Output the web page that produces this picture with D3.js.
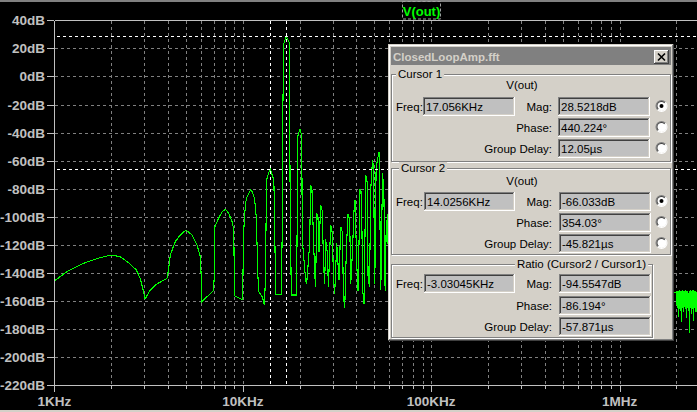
<!DOCTYPE html>
<html><head><meta charset="utf-8">
<script src="https://cdn.jsdelivr.net/npm/d3@7"></script>
<style>
html,body{margin:0;padding:0;background:#000;overflow:hidden;}
svg{display:block;}
</style></head>
<body>
<svg id="c" width="697" height="412"></svg>
<script>
// ---------- data ----------
const yTickValues = [40,20,0,-20,-40,-60,-80,-100,-120,-140,-160,-180,-200,-220];
const xLabelFreqKHz = [1,10,100,1000];
const xLabelTexts = ["1KHz","10KHz","100KHz","1MHz"];
const traceName = "V(out)";

// spectrum, low part (harmonic lobes) [kHz, dB]
const spectrumLow = [
 [1.0,-145.7],[1.164,-139.1],[1.427,-133.1],[1.75,-129.1],[2.0,-127.2],[2.236,-128.4],[2.475,-132.6],
 [2.72,-137.8],[2.857,-143.8],[2.974,-153.3],[3.03,-158.7],[3.228,-152.1],[3.505,-147.8],[3.962,-143.8],
 [4.01,-140.2],[4.125,-127.2],[4.385,-117.7],[4.663,-112.9],[5.0,-109.4],[5.38,-112.9],[5.72,-120.0],
 [5.957,-128.4],[6.009,-140.2],[6.06,-160.4],[7.0,-152.6],[7.07,-140.2],[7.12,-107.0],[7.45,-101.0],
 [7.77,-96.3],[8.09,-94.6],[8.42,-97.5],[8.78,-103.4],[8.96,-109.4],[9.02,-145.0],[9.07,-156.4],
 [9.98,-159.0],[10.02,-142.6],[10.12,-109.4],[10.34,-90.3],[10.55,-85.6],[10.99,-80.9],[11.22,-82.1],
 [11.54,-86.8],[11.79,-99.9],[11.93,-123.6],[12.02,-141.4],[12.17,-153.3],[12.68,-156.9],[13.04,-162.8],
 [13.2,-141.4],[13.37,-73.7],[13.75,-68.5],[14.0256,-66.033],[14.33,-70.2],[14.62,-73.7],[14.75,-99.9],
 [14.93,-153.3],[14.97,-155.0],[16.0,-155.0],[16.2,-109.4],[16.32,-22.0],[16.53,23.6],[16.73,25.5],
 [16.87,27.2],[17.056,28.5218],[17.35,26.0],[17.65,24.0],[17.72,-22.0],[17.87,-100.0],[18.1,-155.7],
 [19.3,-155.7],[19.6,-42.4],[19.78,-40.5],[20.1,-37.6],[20.4,-40.5],[20.55,-42.4],[20.7,-116.5]
];
// spectrum, dense part 21k..62k
const spectrumDense = [
 [21.55,-145],[21.82,-148],[22.63,-120],[22.92,-77.3],[23.28,-80],[23.57,-103],[24.06,-140],[24.36,-150],
 [24.66,-97],[25.06,-100],[25.37,-125],[25.9,-91.5],[26.45,-96],[26.77,-130],[27.2,-148],[27.54,-116],
 [28.11,-126],[28.47,-150],[29.28,-105.8],[29.89,-112],[30.26,-142],[30.75,-155],[31.51,-119],[32.41,-145],
 [33.08,-107],[33.78,-111],[34.2,-156],[34.75,-165],[35.48,-122],[36.18,-98],[36.94,-102],[37.4,-148],
 [38.18,-125],[38.95,-95],[39.42,-88],[40.26,-134],[40.9,-153],[41.91,-80],[42.64,-83],[43.32,-153],
 [44.02,-162],[44.95,-70],[45.66,-75],[46.22,-142],[47.02,-150],[47.78,-80],[48.79,-59.5],[49.39,-64],
 [50.18,-148],[50.99,-66],[51.87,-59],[52.89,-54],[54.01,-152],[55.14,-69],[56.04,-80],[56.94,-153],
 [57.64,-110],[58.64,-98],[59.8,-164],[60.53,-106],[61.8,-130]
];
// spectrum, high-frequency noise floor 2MHz..2.65MHz
const spectrumHigh = [
 [2000,-154],[2007,-163],[2014,-153],[2021,-165],[2028,-155],[2035,-162],[2042,-153],[2049,-171],
 [2056,-154],[2063,-164],[2070,-152],[2077,-163],[2084,-155],[2091,-166],[2098,-153],[2105,-162],
 [2112,-154],[2119,-175],[2126,-153],[2133,-164],[2140,-155],[2147,-163],[2154,-152],[2161,-165],
 [2168,-154],[2175,-162],[2182,-153],[2189,-168],[2196,-155],[2203,-164],[2210,-153],[2217,-163],
 [2224,-154],[2231,-166],[2238,-152],[2245,-162],[2252,-155],[2259,-172],[2266,-153],[2273,-164],
 [2280,-154],[2287,-163],[2294,-153],[2301,-165],[2308,-155],[2315,-162],[2322,-154],[2329,-167],
 [2336,-153],[2343,-183],[2350,-154],[2357,-163],[2364,-152],[2371,-165],[2378,-155],[2385,-162],
 [2392,-153],[2399,-169],[2406,-154],[2413,-164],[2420,-153],[2427,-163],[2434,-155],[2441,-166],
 [2448,-152],[2455,-162],[2462,-154],[2469,-174],[2476,-153],[2483,-164],[2490,-155],[2497,-163],
 [2504,-153],[2511,-165],[2518,-154],[2525,-162],[2532,-153],[2539,-168],[2546,-155],[2553,-164],
 [2560,-154],[2567,-163],[2574,-152],[2581,-166],[2588,-154],[2595,-162],[2602,-153],[2609,-171],
 [2616,-155],[2623,-164],[2630,-154],[2637,-163],[2644,-153],[2651,-165]
];

const cursor1 = {freqKHz:17.056, magDB:28.5218};
const cursor2 = {freqKHz:14.0256, magDB:-66.033};

const dialogTitle = "ClosedLoopAmp.fft";
const cursor1Fields = ["17.056KHz","28.5218dB","440.224°","12.05µs"];
const cursor2Fields = ["14.0256KHz","-66.033dB","354.03°","-45.821µs"];
const ratioFields = ["-3.03045KHz","-94.5547dB","-86.194°","-57.871µs"];

// ---------- drawing ----------
const svg = d3.select("#c");
const W = 697, H = 412;
const L = 54, T = 20, B = 385;

const x = d3.scaleLog().domain([1,1000]).range([54.3,619.7]);
const y = d3.scaleLinear().domain([-220,40]).range([385.3,20.3]);
const xMaxKHz = x.invert(W);
const xFull = x.copy().domain([1,xMaxKHz]).range([54.3,W]);

svg.append("rect").attr("width",W).attr("height",H).attr("fill","#000");
svg.append("rect").attr("x",0).attr("y",0).attr("width",W).attr("height",2).attr("fill","#808080");
svg.append("rect").attr("x",0).attr("y",410).attr("width",W).attr("height",2).attr("fill","#d4d0c8");

const gridColor = "#808080", axisColor = "#c0c0c0";
const px = v => Math.round(v)+0.5;

// vertical grid (log ticks)
const xt = xFull.ticks().filter(v => v > 1.0001 && x(v) < W);
const grid = svg.append("g").attr("shape-rendering","crispEdges");
grid.selectAll("line.v").data(xt).join("line")
  .attr("x1",d=>px(x(d))).attr("x2",d=>px(x(d))).attr("y1",T+1).attr("y2",B)
  .attr("stroke",gridColor).attr("stroke-dasharray","3,3");
grid.selectAll("line.h").data(yTickValues.filter(v=>v<40 && v>-220)).join("line")
  .attr("x1",L+1).attr("x2",W).attr("y1",d=>px(y(d))).attr("y2",d=>px(y(d)))
  .attr("stroke",gridColor).attr("stroke-dasharray","3,3");

// axes frame
const ax = svg.append("g").attr("stroke",axisColor).attr("stroke-width",1).attr("shape-rendering","crispEdges");
ax.append("line").attr("x1",px(L)).attr("x2",px(L)).attr("y1",px(T)).attr("y2",px(B));
ax.append("line").attr("x1",px(L)).attr("x2",W).attr("y1",px(T)).attr("y2",px(T));
ax.append("line").attr("x1",47).attr("x2",W).attr("y1",px(B)).attr("y2",px(B));
ax.selectAll("line.yt").data(yTickValues).join("line")
  .attr("x1",47).attr("x2",L).attr("y1",d=>px(y(d))).attr("y2",d=>px(y(d)));
const allXT = [1].concat(xt);
ax.selectAll("line.xt").data(allXT).join("line")
  .attr("x1",d=>px(x(d))).attr("x2",d=>px(x(d))).attr("y1",px(B))
  .attr("y2",d=> (Math.abs(Math.log10(d)-Math.round(Math.log10(d)))<1e-6) ? B+7 : B+4);

// labels
const lab = svg.append("g").attr("fill",axisColor)
  .style("font-family","'Liberation Sans',Arial,sans-serif").style("font-weight","bold").style("font-size","13.5px");
lab.selectAll("text.y").data(yTickValues).join("text")
  .attr("x",45).attr("y",d=>y(d)+5).attr("text-anchor","end").text(d=>d+"dB");
lab.selectAll("text.x").data(xLabelFreqKHz).join("text")
  .attr("x",d=>x(d)).attr("y",406).attr("text-anchor","middle").text((d,i)=>xLabelTexts[i]);

// title
svg.append("rect").attr("x",402.5).attr("y",1.5).attr("width",38).attr("height",17.5)
  .attr("fill","none").attr("stroke","#a0a0a0").attr("stroke-dasharray","3,2");
svg.append("text").attr("x",421.5).attr("y",15.5).attr("text-anchor","middle")
  .attr("fill","#00ff00").style("font-family","'Liberation Sans',Arial,sans-serif")
  .style("font-weight","bold").style("font-size","13px").text(traceName);

// trace
svg.append("clipPath").attr("id","pc").append("rect").attr("x",L+1).attr("y",T+1).attr("width",W-L).attr("height",B-T-1);
const all = spectrumLow.concat(spectrumDense, spectrumHigh);
const line = d3.line().x(d=>x(d[0])).y(d=>y(d[1]));
svg.append("path").attr("d",line(all)).attr("fill","none").attr("stroke","#00ff00")
  .attr("stroke-width",1.1).attr("shape-rendering","crispEdges").attr("clip-path","url(#pc)");

// cursors
const cur = svg.append("g").attr("stroke","#ffffff").attr("stroke-dasharray","3,3").attr("shape-rendering","crispEdges");
[cursor1,cursor2].forEach(c=>{
  cur.append("line").attr("x1",px(x(c.freqKHz))).attr("x2",px(x(c.freqKHz))).attr("y1",T+1).attr("y2",B);
  cur.append("line").attr("x1",57).attr("x2",W).attr("y1",px(y(c.magDB))).attr("y2",px(y(c.magDB)));
});

// ---------- dialog ----------
const dg = svg.append("g").attr("shape-rendering","crispEdges");
const face="#d4d0c8", dk="#808080", dk2="#404040", wh="#ffffff";
function hline(x1,x2,yy,c){dg.append("line").attr("x1",x1).attr("x2",x2).attr("y1",yy+0.5).attr("y2",yy+0.5).attr("stroke",c);}
function vline(xx,y1,y2,c){dg.append("line").attr("x1",xx+0.5).attr("x2",xx+0.5).attr("y1",y1).attr("y2",y2).attr("stroke",c);}
function raised(x0,y0,w,h,outerTL,innerTL){
  dg.append("rect").attr("x",x0).attr("y",y0).attr("width",w).attr("height",h).attr("fill",face);
  hline(x0,x0+w-1,y0,outerTL); vline(x0,y0,y0+h-1,outerTL);
  hline(x0,x0+w,y0+h-1,dk2); vline(x0+w-1,y0,y0+h,dk2);
  hline(x0+1,x0+w-2,y0+1,innerTL); vline(x0+1,y0+1,y0+h-2,innerTL);
  hline(x0+1,x0+w-1,y0+h-2,dk); vline(x0+w-2,y0+1,y0+h-1,dk);
}
function sunken(x0,y0,w,h){
  dg.append("rect").attr("x",x0).attr("y",y0).attr("width",w).attr("height",h).attr("fill","#c0c0c0");
  hline(x0,x0+w-1,y0,dk); vline(x0,y0,y0+h-1,dk);
  hline(x0+1,x0+w-2,y0+1,dk2); vline(x0+1,y0+1,y0+h-2,dk2);
  hline(x0,x0+w,y0+h-1,wh); vline(x0+w-1,y0,y0+h,wh);
  hline(x0+1,x0+w-1,y0+h-2,face); vline(x0+w-2,y0+1,y0+h-1,face);
}
function etched(x0,y0,w,h){
  dg.append("rect").attr("x",x0+1.5).attr("y",y0+1.5).attr("width",w-1).attr("height",h-1).attr("fill","none").attr("stroke",wh);
  dg.append("rect").attr("x",x0+0.5).attr("y",y0+0.5).attr("width",w-1).attr("height",h-1).attr("fill","none").attr("stroke",dk);
}
const font = "'Liberation Sans',Arial,sans-serif";
function txt(s,xx,yy,anchor,opts){
  const t = svg.append("text").attr("x",xx).attr("y",yy).attr("text-anchor",anchor||"start")
    .attr("fill",(opts&&opts.fill)||"#000").style("font-family",font).style("font-size",(opts&&opts.size)||"11.5px")
    .text(s);
  if(opts&&opts.bold) t.style("font-weight","bold");
  return t;
}
function groupLabel(s,xx,yy,anchor){
  const t = txt(s,xx,yy,anchor);
  const bb = t.node().getBBox();
  svg.insert("rect", () => t.node()).attr("x",bb.x-2).attr("y",bb.y).attr("width",bb.width+4).attr("height",bb.height).attr("fill",face);
}
function radio(cx,cy,checked){
  const r=6;
  const g = svg.append("g");
  g.append("circle").attr("cx",cx).attr("cy",cy).attr("r",r-1).attr("fill",wh);
  const arc = d3.arc();
  const a0 = -Math.PI*3/4, a1 = Math.PI/4;   // upper-left half (d3 angles: 0 = 12 o'clock, clockwise)
  const tr = `translate(${cx},${cy})`;
  g.append("path").attr("transform",tr).attr("d",arc({innerRadius:r-1,outerRadius:r,startAngle:a0-Math.PI/2+Math.PI/2,endAngle:a1})).attr("fill",dk);
  g.append("path").attr("transform",tr).attr("d",arc({innerRadius:r-2,outerRadius:r-1,startAngle:a0,endAngle:a1})).attr("fill",dk2);
  g.append("path").attr("transform",tr).attr("d",arc({innerRadius:r-1,outerRadius:r,startAngle:a1,endAngle:a0+2*Math.PI})).attr("fill",wh);
  if(checked) g.append("circle").attr("cx",cx).attr("cy",cy).attr("r",2).attr("fill","#000");
}

// frame
raised(388,44,286,297,face,wh);
dg.append("rect").attr("x",391).attr("y",47).attr("width",280).attr("height",18).attr("fill",dk);
txt(dialogTitle,393,60.5,"start",{bold:true,fill:face,size:"11.5px"});
raised(654,50,15,14,wh,face);
svg.append("path").attr("d","M658,53.5 L665,60.5 M665,53.5 L658,60.5").attr("stroke","#000").attr("stroke-width",1.6);

function cursorGroup(gx,gy,gw,gh,label,fields,rows,freqBox,valBoxX,radios,title,labelAnchorX,labelAnchor,titleY){
  etched(gx,gy,gw,gh);
  groupLabel(label,labelAnchorX,gy+4,labelAnchor);
  if(title) txt(title,522,titleY,"middle");
  const names=["Mag:","Phase:","Group Delay:"];
  txt("Freq:",396,rows[0]+13.5,"start");
  sunken(freqBox[0],rows[0],freqBox[1],rows[3]);
  txt(fields[0],freqBox[0]+3,rows[0]+13.5,"start");
  for(let i=0;i<3;i++){
    txt(names[i],552,rows[i]+13.5,"end");
    sunken(valBoxX,rows[i],92,rows[3]);
    txt(fields[i+1],valBoxX+3,rows[i]+13.5,"start");
    if(radios) radio(661.5,rows[i]+9,i===0);
  }
}
cursorGroup(391,74,280,88,"Cursor 1",cursor1Fields,[97,118,139,19],[423,92],558,true,traceName,398,"start",89);
cursorGroup(391,168,280,87,"Cursor 2",cursor2Fields,[192,213,234,19],[424,91],559,true,traceName,401,"start",185);
cursorGroup(391,264,262,74,"Ratio (Cursor2 / Cursor1)",ratioFields,[274,296,317,19],[424,91],559,false,null,646,"end",0);
</script>
</body></html>
